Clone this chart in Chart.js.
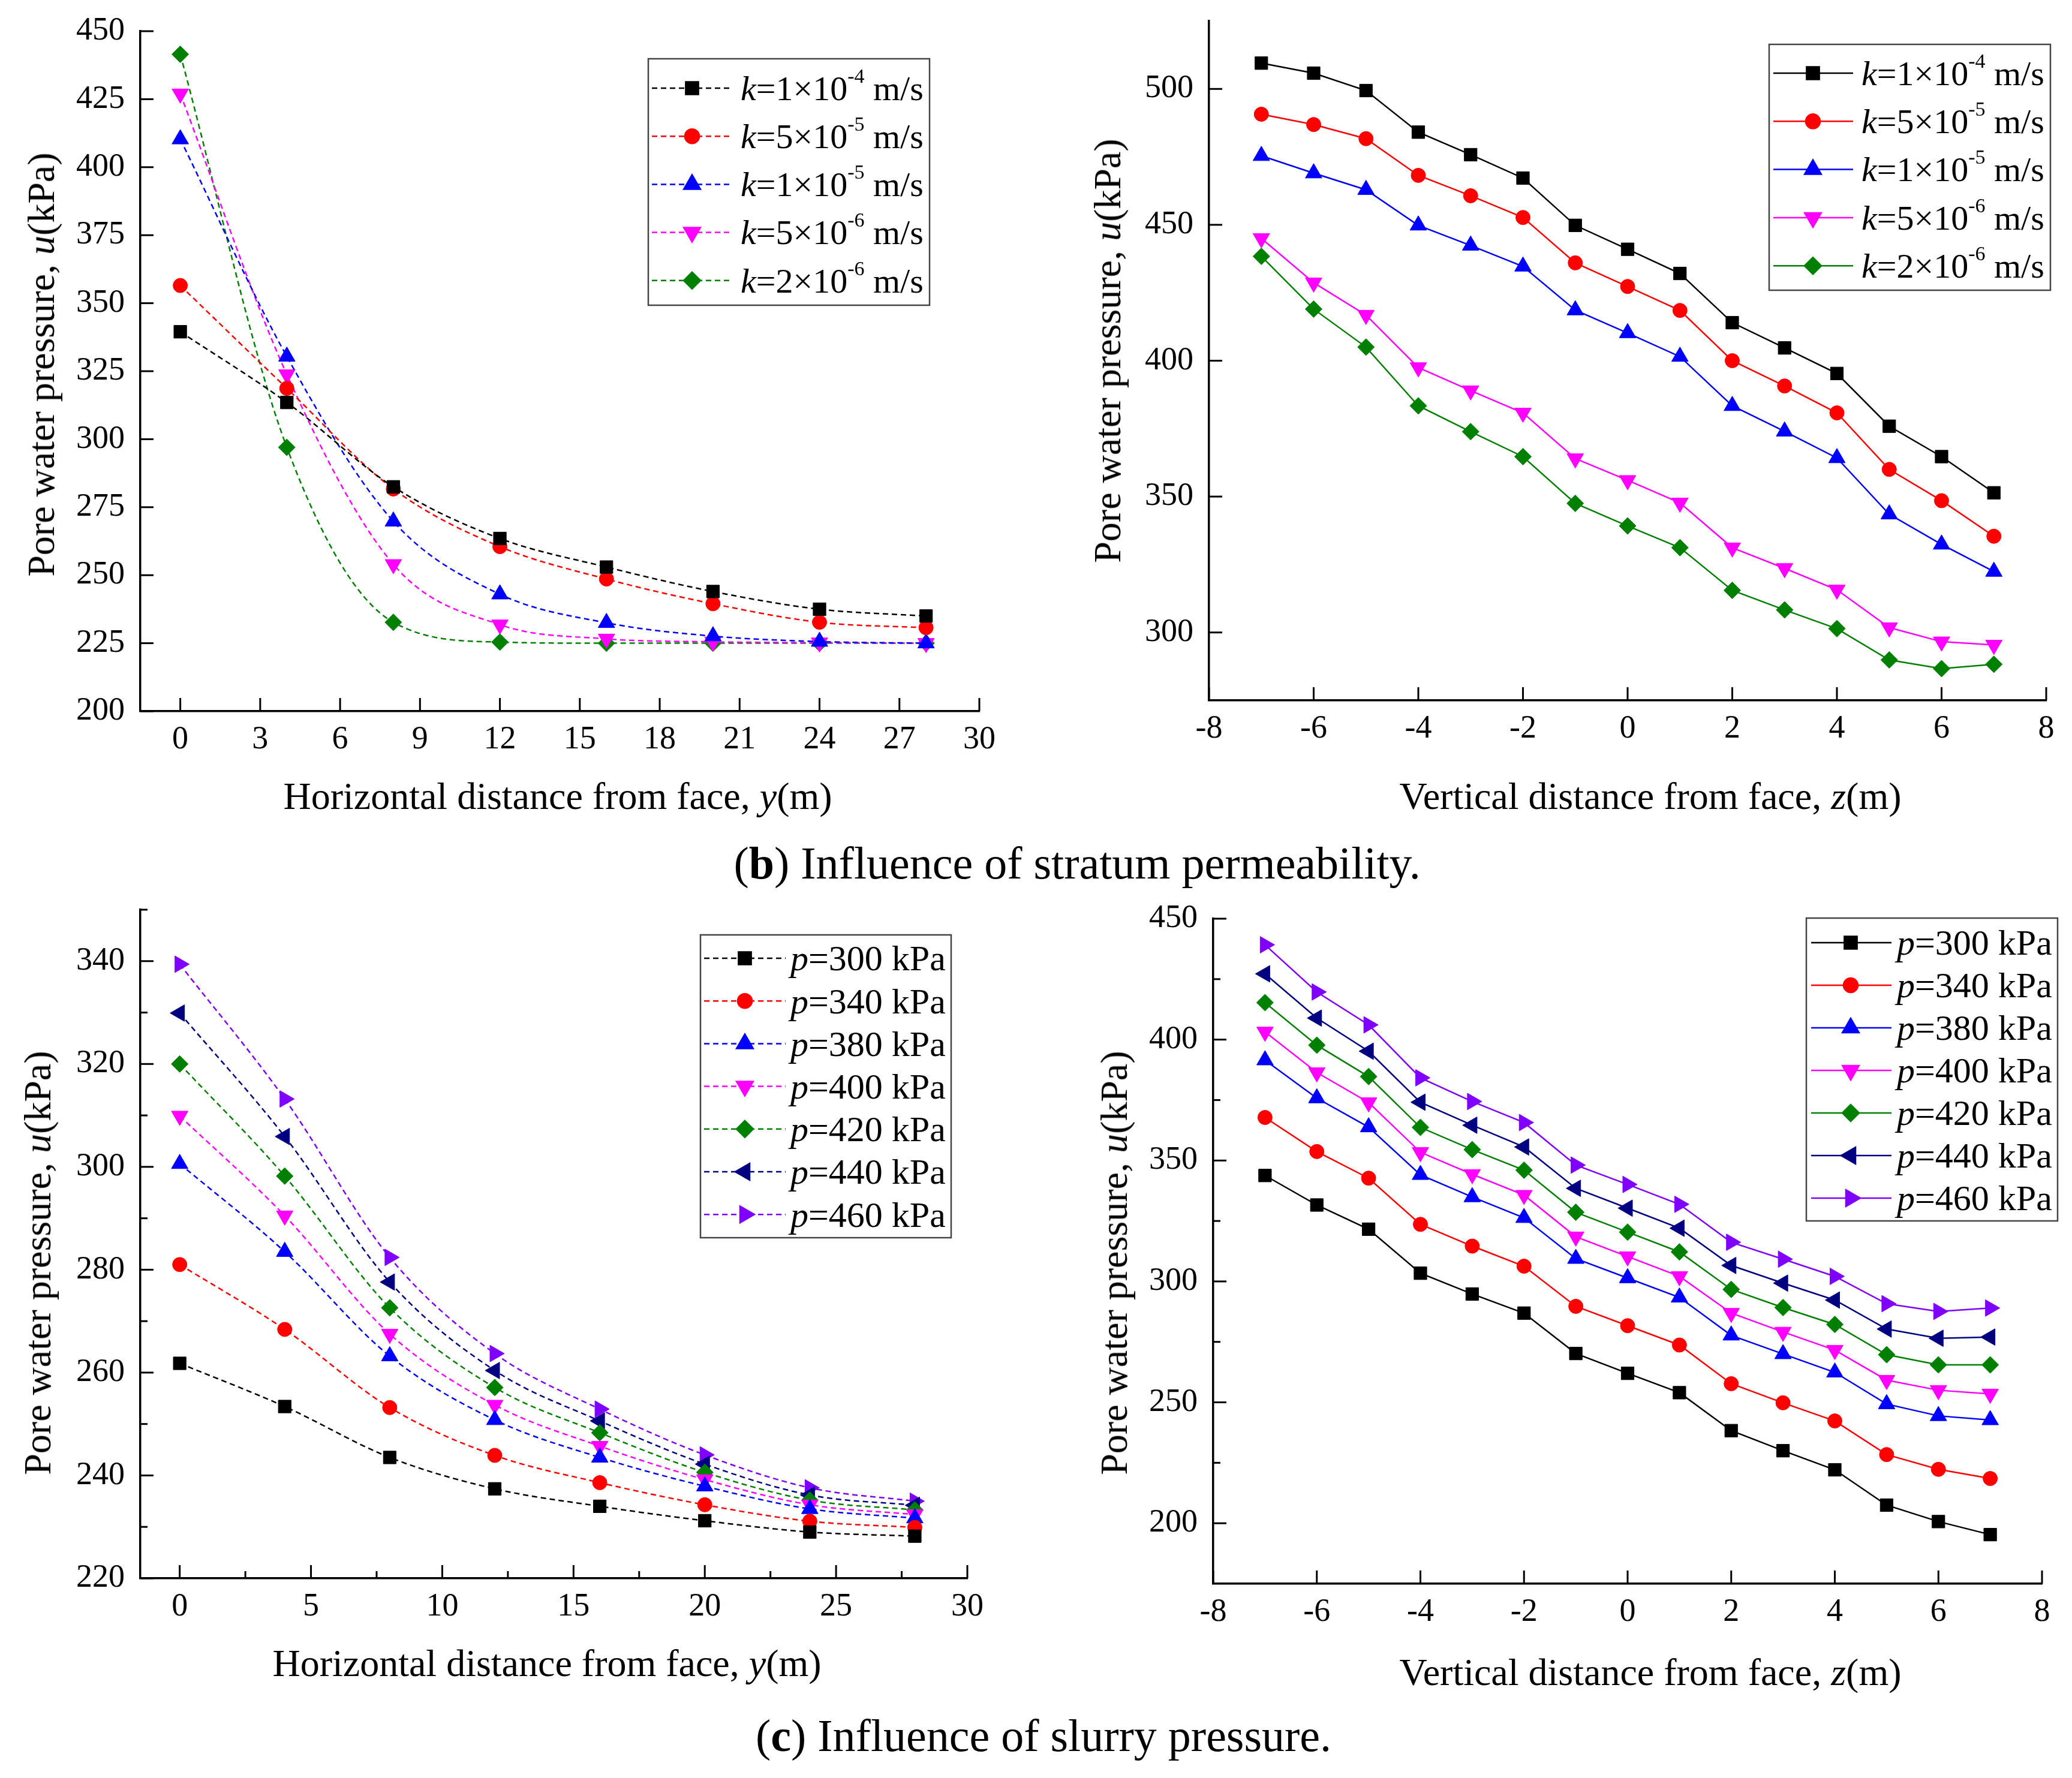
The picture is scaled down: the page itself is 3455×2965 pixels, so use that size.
<!DOCTYPE html>
<html><head><meta charset="utf-8">
<script src="https://cdn.jsdelivr.net/npm/chart.js@4.4.1/dist/chart.umd.min.js"></script>
<style>
html,body{margin:0;padding:0;background:#fff;}
body{width:3455px;height:2965px;position:relative;overflow:hidden;font-family:"Liberation Serif","Times New Roman",serif;color:#000;}
.cw{position:absolute;}
.t{position:absolute;white-space:nowrap;font-size:64px;line-height:1;transform:translate(-50%,-50%);}
.ty{transform:translate(-50%,-50%) rotate(-90deg);}
.cap{position:absolute;white-space:nowrap;font-size:76px;line-height:1;transform:translate(-50%,-50%);}
</style></head><body>
<div class="cw" id="w1"><canvas id="c1"></canvas></div>
<div class="cw" id="w2"><canvas id="c2"></canvas></div>
<div class="cw" id="w3"><canvas id="c3"></canvas></div>
<div class="cw" id="w4"><canvas id="c4"></canvas></div>

<div class="t ty" style="left:69px;top:608px">Pore water pressure, <i>u</i>(kPa)</div>
<div class="t" style="left:930px;top:1328px">Horizontal distance from face, <i>y</i>(m)</div>
<div class="t ty" style="left:1847px;top:585px">Pore water pressure, <i>u</i>(kPa)</div>
<div class="t" style="left:2752px;top:1328px">Vertical distance from face, <i>z</i>(m)</div>
<div class="cap" style="left:1796px;top:1439px">(<b>b</b>) Influence of stratum permeability.</div>

<div class="t ty" style="left:63px;top:2106px">Pore water pressure, <i>u</i>(kPa)</div>
<div class="t" style="left:912px;top:2774px">Horizontal distance from face, <i>y</i>(m)</div>
<div class="t ty" style="left:1858px;top:2106px">Pore water pressure, <i>u</i>(kPa)</div>
<div class="t" style="left:2752px;top:2789px">Vertical distance from face, <i>z</i>(m)</div>
<div class="cap" style="left:1740px;top:2894px">(<b>c</b>) Influence of slurry pressure.</div>

<script>
// ---------- data ----------
const xH = [0, 4, 8, 12, 16, 20, 24, 28];
const xV = [-7, -6, -5, -4, -3, -2, -1, 0, 1, 2, 3, 4, 5, 6, 7];

const kLabels = ['k=1×10^-4 m/s', 'k=5×10^-5 m/s', 'k=1×10^-5 m/s', 'k=5×10^-6 m/s', 'k=2×10^-6 m/s'];
const pLabels = ['p=300 kPa', 'p=340 kPa', 'p=380 kPa', 'p=400 kPa', 'p=420 kPa', 'p=440 kPa', 'p=460 kPa'];

// (b) horizontal, permeability
const kH1 = [339.5, 313.5, 282.5, 263.5, 253.0, 244.0, 237.5, 235.0];
const kH2 = [356.5, 318.7, 281.7, 260.5, 248.6, 239.5, 232.7, 230.7];
const kH3 = [410.3, 330.4, 269.8, 243.0, 232.5, 227.6, 225.6, 225.0];
const kH4 = [427.0, 323.8, 254.0, 231.8, 226.6, 225.5, 225.2, 225.0];
const kH5 = [441.5, 297.0, 232.7, 225.4, 225.0, 225.0, 225.0, 225.0];

// (b) vertical, permeability
const kV1 = [509.5, 505.8, 499.4, 484.1, 475.8, 467.2, 449.8, 441.0, 432.1, 414.0, 404.7, 395.3, 375.9, 364.7, 351.4];
const kV2 = [490.7, 486.9, 481.7, 468.2, 460.7, 452.7, 436.0, 427.3, 418.5, 400.0, 390.7, 380.8, 360.0, 348.5, 335.4];
const kV3 = [475.4, 469.0, 462.9, 449.8, 442.4, 434.7, 418.6, 410.2, 401.5, 383.4, 374.0, 364.2, 343.5, 332.4, 322.4];
const kV4 = [445.0, 428.7, 416.8, 397.5, 389.0, 380.8, 364.0, 356.0, 347.7, 331.2, 323.6, 315.7, 301.8, 296.6, 295.4];
const kV5 = [438.4, 419.0, 405.0, 383.4, 373.9, 364.7, 347.5, 339.2, 331.2, 315.5, 308.3, 301.4, 289.9, 286.7, 288.3];

// (c) horizontal, slurry pressure
const pH1 = [261.8, 253.4, 243.5, 237.4, 234.0, 231.2, 229.0, 228.2];
const pH2 = [281.0, 268.4, 253.2, 243.9, 238.6, 234.3, 231.1, 229.9];
const pH3 = [300.6, 283.5, 263.2, 250.8, 243.5, 237.9, 233.5, 231.7];
const pH4 = [309.9, 290.5, 267.5, 253.7, 245.7, 239.2, 234.3, 232.4];
const pH5 = [320.0, 298.2, 272.6, 257.1, 248.3, 240.6, 235.2, 233.3];
const pH6 = [329.9, 305.9, 277.6, 260.4, 250.6, 242.2, 236.2, 234.2];
const pH7 = [339.4, 313.2, 282.4, 263.7, 252.9, 244.0, 237.6, 235.0];

// (c) vertical, slurry pressure
const pV1 = [343.8, 331.6, 321.6, 303.4, 294.8, 286.9, 270.2, 262.0, 254.0, 238.3, 230.0, 222.1, 207.5, 200.7, 195.3];
const pV2 = [367.8, 353.7, 342.7, 323.6, 314.6, 306.3, 289.7, 281.7, 273.7, 257.7, 249.8, 242.3, 228.4, 222.3, 218.5];
const pV3 = [391.5, 375.8, 363.8, 344.1, 334.9, 326.3, 309.4, 301.4, 293.4, 277.7, 270.0, 262.4, 249.3, 244.4, 242.7];
const pV4 = [403.2, 386.4, 374.0, 353.4, 344.3, 335.7, 318.5, 310.3, 302.1, 286.9, 279.1, 271.6, 259.2, 255.0, 253.5];
const pV5 = [415.3, 397.7, 384.7, 363.7, 354.5, 346.0, 328.6, 320.4, 312.2, 296.7, 289.2, 282.2, 269.7, 265.5, 265.5];
const pV6 = [427.2, 408.9, 395.2, 374.1, 364.6, 355.6, 338.5, 330.3, 322.0, 306.6, 299.3, 292.3, 280.3, 276.5, 277.0];
const pV7 = [439.2, 419.7, 406.1, 384.2, 374.4, 365.7, 348.1, 340.1, 331.9, 316.2, 309.2, 302.1, 290.8, 287.6, 289.0];

// tick values
const ticksX1 = [0, 3, 6, 9, 12, 15, 18, 21, 24, 27, 30];
const ticksY1 = [200, 225, 250, 275, 300, 325, 350, 375, 400, 425, 450];
const ticksX2 = [-8, -6, -4, -2, 0, 2, 4, 6, 8];
const ticksY2 = [300, 350, 400, 450, 500];
const ticksX3 = [0, 5, 10, 15, 20, 25, 30];
const minorX3 = [2.5, 7.5, 12.5, 17.5, 22.5, 27.5];
const ticksY3 = [220, 240, 260, 280, 300, 320, 340];
const minorY3 = [230, 250, 270, 290, 310, 330, 350];
const ticksX4 = [-8, -6, -4, -2, 0, 2, 4, 6, 8];
const ticksY4 = [200, 250, 300, 350, 400, 450];
const minorY4 = [225, 275, 325, 375, 425];

// ---------- styles ----------
const FONT = '"Liberation Serif"';
const COLORS = ['#000000', '#ff0000', '#0000ff', '#ff00ff', '#008000', '#000080', '#8000ff'];
const MARKERS = [
  {pointStyle: 'rect', rotation: 0, radius: 15},
  {pointStyle: 'circle', rotation: 0, radius: 12},
  {pointStyle: 'triangle', rotation: 0, radius: 16},
  {pointStyle: 'triangle', rotation: 180, radius: 16},
  {pointStyle: 'rectRot', rotation: 0, radius: 14},
  {pointStyle: 'triangle', rotation: 270, radius: 16},
  {pointStyle: 'triangle', rotation: 90, radius: 16}
];

Chart.defaults.font.family = FONT;
Chart.defaults.color = '#000';

// inward tick marks plugin
const inTicks = {
  id: 'inTicks',
  afterDraw(chart) {
    const ctx = chart.ctx, a = chart.chartArea;
    ctx.save();
    ctx.strokeStyle = '#000';
    ctx.lineWidth = 3;
    ctx.setLineDash([]);
    for (const s of [chart.scales.x, chart.scales.y]) {
      const draw = (v, len) => {
        const p = s.getPixelForValue(v);
        ctx.beginPath();
        if (s.isHorizontal()) { ctx.moveTo(p, a.bottom); ctx.lineTo(p, a.bottom - len); }
        else { ctx.moveTo(a.left, p); ctx.lineTo(a.left + len, p); }
        ctx.stroke();
      };
      s.ticks.forEach(t => draw(t.value, 22));
      (s.options.minorTicks || []).forEach(v => draw(v, 12));
    }
    ctx.restore();
  }
};

function segs(label) {
  const out = [{t: label[0], it: true}];
  const rest = label.slice(1);
  const i = rest.indexOf('^');
  if (i < 0) { out.push({t: rest}); return out; }
  const j = rest.indexOf(' ', i);
  out.push({t: rest.slice(0, i)});
  out.push({t: rest.slice(i + 1, j), sup: true});
  out.push({t: rest.slice(j)});
  return out;
}

// boxed legend plugin drawn inside the plot
const boxLegend = {
  id: 'boxLegend',
  afterDraw(chart, args, o) {
    if (!o || !o.box) return;
    const ctx = chart.ctx;
    ctx.save();
    ctx.setLineDash([]);
    ctx.strokeStyle = '#444';
    ctx.lineWidth = 2.5;
    const [x0, y0, x1, y1] = o.box;
    ctx.fillStyle = '#fff';
    ctx.fillRect(x0, y0, x1 - x0, y1 - y0);
    ctx.strokeRect(x0, y0, x1 - x0, y1 - y0);
    chart.data.datasets.forEach((ds, i) => {
      const y = o.row0 + i * o.rowStep;
      ctx.save();
      ctx.strokeStyle = ds.borderColor;
      ctx.lineWidth = ds.borderWidth;
      ctx.setLineDash(ds.borderDash || []);
      ctx.beginPath(); ctx.moveTo(o.s0, y); ctx.lineTo(o.s1, y); ctx.stroke();
      ctx.setLineDash([]);
      ctx.fillStyle = ds.pointBackgroundColor;
      ctx.strokeStyle = ds.pointBackgroundColor;
      Chart.helpers.drawPoint(ctx, {pointStyle: ds.pointStyle, rotation: ds.pointRotation, radius: ds.pointRadius, borderWidth: 1}, o.m, y);
      ctx.restore();
      // text
      let x = o.tx;
      const base = y + o.size * 0.34;
      ctx.fillStyle = '#000';
      ctx.textBaseline = 'alphabetic';
      ctx.textAlign = 'left';
      segs(ds.label).forEach(sg => {
        let f, yy = base;
        if (sg.sup) { f = Math.round(o.size * 0.58) + 'px ' + FONT; yy = base - o.size * 0.5; }
        else f = (sg.it ? 'italic ' : '') + o.size + 'px ' + FONT;
        ctx.font = f;
        ctx.fillText(sg.t, x, yy);
        x += ctx.measureText(sg.t).width;
      });
    });
    ctx.restore();
  }
};

function makeChart(n, g, xs, series, labels, xr, yr, tk, dashed, leg) {
  const PL = 240, PT = 70, PR = 100, PB = 130;
  const wrap = document.getElementById('w' + n);
  const left = g.L - PL, top = g.T - PT;
  wrap.style.left = left + 'px';
  wrap.style.top = top + 'px';
  wrap.style.width = (g.R - g.L + PL + PR) + 'px';
  wrap.style.height = (g.B - g.T + PT + PB) + 'px';
  const datasets = series.map((ys, i) => ({
    label: labels[i],
    data: xs.map((x, j) => ({x: x, y: ys[j]})),
    borderColor: COLORS[i],
    backgroundColor: COLORS[i],
    pointBackgroundColor: COLORS[i],
    pointBorderColor: COLORS[i],
    pointBorderWidth: 1,
    pointStyle: MARKERS[i].pointStyle,
    pointRotation: MARKERS[i].rotation,
    pointRadius: MARKERS[i].radius,
    borderWidth: 2.5,
    borderDash: dashed ? [9, 6] : [],
    cubicInterpolationMode: dashed ? 'monotone' : 'default',
    tension: 0,
    fill: false
  }));
  const L = {
    box: [leg.box[0] - left, leg.box[1] - top, leg.box[2] - left, leg.box[3] - top],
    row0: leg.row0 - top, rowStep: leg.rowStep,
    s0: leg.s0 - left, s1: leg.s1 - left, m: leg.m - left, tx: leg.tx - left, size: leg.size
  };
  const tickFont = {family: FONT, size: 54};
  new Chart(document.getElementById('c' + n), {
    type: 'line',
    data: {datasets},
    plugins: [inTicks, boxLegend],
    options: {
      responsive: true, maintainAspectRatio: false, animation: false,
      layout: {padding: {left: 0, top: PT, right: PR, bottom: 0}},
      plugins: {legend: {display: false}, tooltip: {enabled: false}, boxLegend: L},
      scales: {
        x: {
          type: 'linear', min: xr[0], max: xr[1],
          afterBuildTicks: s => { s.ticks = tk.x.map(v => ({value: v})); },
          afterFit: s => { s.height = PB; },
          grid: {display: false, drawTicks: false},
          border: {display: true, color: '#000', width: 3.5},
          ticks: {font: tickFont, color: '#000', padding: 15, maxRotation: 0, autoSkip: false},
          minorTicks: tk.mx || []
        },
        y: {
          type: 'linear', min: yr[0], max: yr[1],
          afterBuildTicks: s => { s.ticks = tk.y.map(v => ({value: v})); },
          afterFit: s => { s.width = PL; },
          grid: {display: false, drawTicks: false},
          border: {display: true, color: '#000', width: 3.5},
          ticks: {font: tickFont, color: '#000', padding: 26, autoSkip: false},
          minorTicks: tk.my || []
        }
      }
    }
  });
}

function drawAll() {
  makeChart(1, {L: 234, R: 1633, T: 52, B: 1186}, xH, [kH1, kH2, kH3, kH4, kH5], kLabels,
    [-1.5, 30], [200, 450], {x: ticksX1, y: ticksY1}, true,
    {box: [1081, 98, 1550, 509], row0: 147, rowStep: 80.2, s0: 1087, s1: 1220, m: 1154, tx: 1235, size: 58});

  makeChart(2, {L: 2016, R: 3412, T: 35, B: 1168}, xV, [kV1, kV2, kV3, kV4, kV5], kLabels,
    [-8, 8], [275, 525], {x: ticksX2, y: ticksY2}, false,
    {box: [2950, 74, 3419, 484], row0: 122, rowStep: 80.3, s0: 2957, s1: 3090, m: 3023, tx: 3104, size: 58});

  makeChart(3, {L: 234, R: 1613, T: 1517, B: 2632}, xH, [pH1, pH2, pH3, pH4, pH5, pH6, pH7], pLabels,
    [-1.5, 30], [220, 350], {x: ticksX3, y: ticksY3, mx: minorX3, my: minorY3}, true,
    {box: [1168, 1559, 1586, 2064], row0: 1598, rowStep: 71.2, s0: 1174, s1: 1310, m: 1242, tx: 1318, size: 60});

  makeChart(4, {L: 2023, R: 3405, T: 1532, B: 2641}, xV, [pV1, pV2, pV3, pV4, pV5, pV6, pV7], pLabels,
    [-8, 8], [175, 450], {x: ticksX4, y: ticksY4, my: minorY4}, false,
    {box: [3012, 1531, 3431, 2036], row0: 1572, rowStep: 71.0, s0: 3020, s1: 3154, m: 3086, tx: 3163, size: 60});
}

let done = false;
function go() { if (done) return; done = true; drawAll(); }
if (document.fonts && document.fonts.load) {
  Promise.all([
    document.fonts.load('54px "Liberation Serif"'),
    document.fonts.load('italic 58px "Liberation Serif"'),
    document.fonts.load('58px "Liberation Serif"')
  ]).then(go, go);
  setTimeout(go, 1500);
} else {
  go();
}
</script>
</body></html>
